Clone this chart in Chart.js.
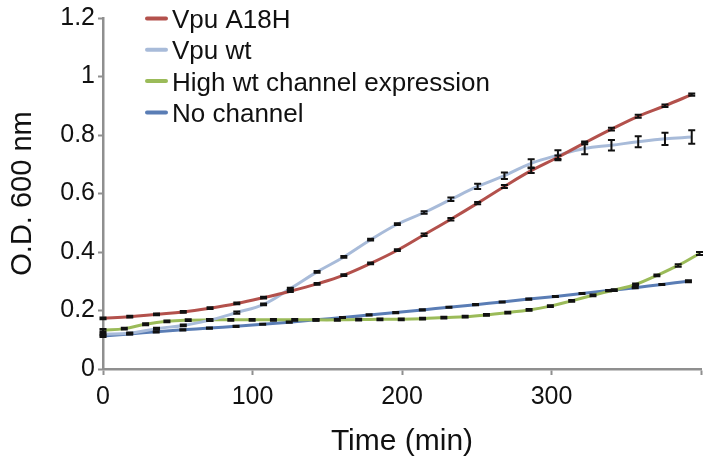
<!DOCTYPE html>
<html>
<head>
<meta charset="utf-8">
<script src="https://cdn.jsdelivr.net/npm/chart.js@4.4.1/dist/chart.umd.min.js"></script>
<style>
  html, body { margin: 0; padding: 0; background: #ffffff; }
  #wrap { width: 710px; height: 472px; }
</style>
</head>
<body>
<div id="wrap"><canvas id="grafico-crescimento"></canvas></div>
<script>
// tempos de leitura (min) de cada curva
const tempoVpu = [0, 17.9, 35.8, 53.7, 71.6, 89.5, 107.4, 125.3, 143.2, 161.1, 179, 196.9, 214.8, 232.7, 250.6, 268.5, 286.4, 304.3, 322.2, 340.1, 358, 375.9, 393.8];
const tempoAlta = [0, 14.25, 28.5, 42.75, 57, 71.25, 85.5, 99.75, 114, 128.25, 142.5, 156.75, 171, 185.25, 199.5, 213.75, 228, 242.25, 256.5, 270.75, 285, 299.25, 313.5, 327.75, 342, 356.25, 370.5, 384.75, 399];
const tempoSemCanal = [0, 17.8, 35.6, 53.4, 71.2, 89, 106.8, 124.6, 142.4, 160.2, 178, 195.8, 213.6, 231.4, 249.2, 267, 284.8, 302.6, 320.4, 338.2, 356, 373.8, 391.6];

// O.D. 600 nm
const vpuA18H = [0.173, 0.179, 0.187, 0.195, 0.208, 0.224, 0.244, 0.266, 0.291, 0.321, 0.361, 0.406, 0.459, 0.512, 0.567, 0.624, 0.678, 0.724, 0.773, 0.820, 0.864, 0.900, 0.938];
const vpuA18HErro = [0.003, 0.003, 0.003, 0.003, 0.003, 0.003, 0.003, 0.003, 0.003, 0.003, 0.003, 0.003, 0.004, 0.004, 0.004, 0.005, 0.008, 0.006, 0.005, 0.005, 0.005, 0.004, 0.004];

const vpuWt = [0.119, 0.122, 0.138, 0.149, 0.167, 0.193, 0.221, 0.275, 0.332, 0.383, 0.442, 0.495, 0.535, 0.580, 0.624, 0.661, 0.703, 0.731, 0.754, 0.765, 0.777, 0.787, 0.793];
const vpuWtErro = [0.004, 0.003, 0.003, 0.003, 0.003, 0.004, 0.003, 0.003, 0.003, 0.003, 0.003, 0.003, 0.004, 0.006, 0.009, 0.011, 0.014, 0.017, 0.020, 0.018, 0.019, 0.021, 0.023];

const altaExpressao = [0.133, 0.138, 0.153, 0.163, 0.167, 0.168, 0.168, 0.168, 0.168, 0.168, 0.168, 0.168, 0.169, 0.170, 0.170, 0.172, 0.176, 0.179, 0.185, 0.193, 0.202, 0.215, 0.233, 0.252, 0.270, 0.289, 0.320, 0.354, 0.395];
const altaExpressaoErro = [0.004, 0.003, 0.003, 0.003, 0.003, 0.003, 0.003, 0.003, 0.003, 0.003, 0.003, 0.003, 0.003, 0.003, 0.003, 0.003, 0.003, 0.003, 0.003, 0.003, 0.003, 0.003, 0.003, 0.003, 0.003, 0.003, 0.003, 0.004, 0.005];

const semCanal = [0.113, 0.120, 0.127, 0.134, 0.140, 0.146, 0.153, 0.160, 0.168, 0.176, 0.185, 0.193, 0.202, 0.211, 0.220, 0.229, 0.239, 0.248, 0.258, 0.268, 0.278, 0.289, 0.300];
const semCanalErro = [0.004, 0.002, 0.002, 0.002, 0.002, 0.002, 0.002, 0.002, 0.002, 0.002, 0.002, 0.002, 0.002, 0.002, 0.002, 0.002, 0.002, 0.002, 0.002, 0.002, 0.002, 0.002, 0.003];

const rotulos = ['Vpu A18H', 'Vpu wt', 'High wt channel expression', 'No channel'];
const cores = ['#b3514c', '#a8bbd9', '#9bbb59', '#5a7db5'];
const ticksX = [0, 100, 200, 300, 400];

const FONTE = '"Liberation Sans", Arial, Helvetica, sans-serif';
const CINZA_EIXO = '#8f8f8f';

function montarPontos(tempos, valores) {
  return tempos.map((t, i) => ({ x: t, y: valores[i] }));
}

function criarSerie(indice, tempos, valores, erros) {
  return {
    label: rotulos[indice],
    data: montarPontos(tempos, valores),
    erros,
    borderColor: cores[indice],
    backgroundColor: cores[indice],
    borderWidth: 3,
    pointRadius: 0,
    tension: 0.4,
    fill: false,
  };
}

// barras de erro pretas desenhadas por cima das linhas
const barrasErro = {
  id: 'barrasErro',
  afterDatasetsDraw(chart) {
    const ctx = chart.ctx;
    const escalaY = chart.scales.y;
    ctx.save();
    ctx.strokeStyle = '#111111';
    ctx.lineWidth = 2;
    chart.data.datasets.forEach((ds, i) => {
      const meta = chart.getDatasetMeta(i);
      meta.data.forEach((ponto, j) => {
        const valor = ds.data[j].y;
        const erro = ds.erros[j];
        const topo = escalaY.getPixelForValue(valor + erro);
        const base = escalaY.getPixelForValue(valor - erro);
        const x = ponto.x;
        ctx.beginPath();
        ctx.moveTo(x, topo);
        ctx.lineTo(x, base);
        ctx.moveTo(x - 3.5, topo);
        ctx.lineTo(x + 3.5, topo);
        ctx.moveTo(x - 3.5, base);
        ctx.lineTo(x + 3.5, base);
        ctx.stroke();
      });
    });
    ctx.restore();
  },
};

// legenda dentro da área do gráfico, canto superior esquerdo
const legendaInterna = {
  id: 'legendaInterna',
  afterDraw(chart) {
    const ctx = chart.ctx;
    ctx.save();
    ctx.font = `26px ${FONTE}`;
    ctx.textBaseline = 'alphabetic';
    ctx.lineCap = 'round';
    chart.data.datasets.forEach((ds, i) => {
      const y = 18.5 + i * 31.3;
      ctx.strokeStyle = ds.borderColor;
      ctx.lineWidth = 4;
      ctx.beginPath();
      ctx.moveTo(147, y);
      ctx.lineTo(166, y);
      ctx.stroke();
      ctx.fillStyle = '#111111';
      ctx.fillText(ds.label, 172, y + 9.5);
    });
    ctx.restore();
  },
};

new Chart(document.querySelector('#grafico-crescimento'), {
  type: 'line',
  data: {
    datasets: [
      criarSerie(0, tempoVpu, vpuA18H, vpuA18HErro),
      criarSerie(1, tempoVpu, vpuWt, vpuWtErro),
      criarSerie(2, tempoAlta, altaExpressao, altaExpressaoErro),
      criarSerie(3, tempoSemCanal, semCanal, semCanalErro),
    ],
  },
  options: {
    responsive: true,
    maintainAspectRatio: false,
    animation: false,
    layout: {
      padding: { left: 6, right: 9, top: 16, bottom: 0 },
    },
    plugins: {
      legend: { display: false },
      tooltip: { enabled: false },
    },
    scales: {
      x: {
        type: 'linear',
        min: 0,
        max: 400,
        afterBuildTicks: (escala) => {
          escala.ticks = ticksX.map((v) => ({ value: v }));
        },
        afterFit: (escala) => {
          escala.height = 103;
        },
        border: { color: CINZA_EIXO, width: 2.5 },
        grid: {
          drawOnChartArea: false,
          drawTicks: true,
          tickLength: 6,
          tickColor: CINZA_EIXO,
          tickWidth: 2,
        },
        ticks: {
          color: '#111111',
          padding: 7,
          maxRotation: 0,
          font: { family: FONTE, size: 25 },
          callback: (v) => (v === 400 ? '' : String(v)),
        },
        title: {
          display: true,
          text: 'Time (min)',
          color: '#111111',
          font: { family: FONTE, size: 30 },
          padding: { top: 12, bottom: 12 },
        },
      },
      y: {
        min: 0,
        max: 1.2,
        afterFit: (escala) => {
          escala.width = 97;
        },
        border: { color: CINZA_EIXO, width: 2.5 },
        grid: {
          drawOnChartArea: false,
          drawTicks: true,
          tickLength: 5,
          tickColor: CINZA_EIXO,
          tickWidth: 2,
        },
        ticks: {
          stepSize: 0.2,
          color: '#111111',
          padding: 3,
          font: { family: FONTE, size: 25 },
          callback: (v) => String(Number(v.toFixed(1))),
        },
        title: {
          display: true,
          text: 'O.D. 600 nm',
          color: '#111111',
          font: { family: FONTE, size: 29 },
          padding: { top: 0, bottom: 4 },
        },
      },
    },
  },
  plugins: [barrasErro, legendaInterna],
});
</script>
</body>
</html>
